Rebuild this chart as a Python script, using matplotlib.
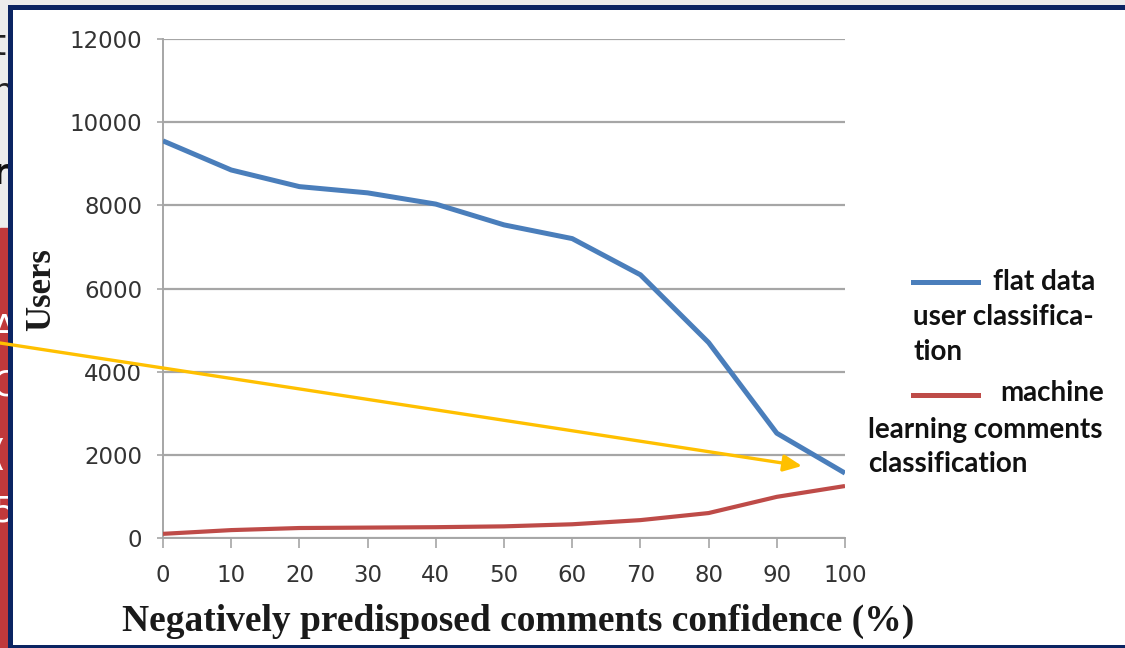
import matplotlib
matplotlib.use('Agg')
import matplotlib.pyplot as plt
from matplotlib.patches import Rectangle
from matplotlib.lines import Line2D

# --- data ---
confidence = [0, 10, 20, 30, 40, 50, 60, 70, 80, 90, 100]
flat_users = [9550, 8850, 8450, 8300, 8030, 7530, 7200, 6330, 4700, 2520, 1560]
ml_users = [100, 190, 240, 250, 260, 280, 330, 430, 600, 990, 1250]
y_ticks = [0, 2000, 4000, 6000, 8000, 10000, 12000]

W, H = 1125, 648
BLUE = '#4a7ebb'
RED = '#be4b48'
GRID = '#a6a6a6'
NAVY = '#0b2462'

fig = plt.figure(figsize=(W / 100, H / 100), dpi=100)

# background slide, in pixel coordinates
bg = fig.add_axes([0, 0, 1, 1])
bg.set_xlim(0, W)
bg.set_ylim(H, 0)
bg.axis('off')
bg.add_patch(Rectangle((0, 0), W, 228, color='#ececec', zorder=0))
bg.add_patch(Rectangle((0, 228), W, H - 228, color='#c0393b', zorder=0))
for txt, y, col, wt in [('t', 45, '#222222', 'normal'), ('n', 93, '#222222', 'normal'),
                        ('r', 174, '#111111', 'bold'), ('A', 330, 'white', 'normal'),
                        ('C', 385, 'white', 'normal'), ('(', 455, 'white', 'normal'),
                        ('5', 512, 'white', 'normal')]:
    bg.text(-8, y, txt, color=col, fontsize=26, fontweight=wt, va='center', ha='left',
            family='DejaVu Sans', zorder=1)
bg.add_patch(Rectangle((9.5, 6.5), W, 640, facecolor='white', edgecolor=NAVY, lw=3.6, zorder=2))

# chart
ax = fig.add_axes([163 / W, 1 - 538 / H, (845 - 163) / W, (538 - 39) / H])
ax.patch.set_alpha(0)
ax.plot(confidence, flat_users, color=BLUE, lw=3.6, solid_capstyle='butt', zorder=3)
ax.plot(confidence, ml_users, color=RED, lw=3.0, solid_capstyle='butt', zorder=3)
ax.set_xlim(0, 100)
ax.set_ylim(0, 12000)
ax.set_xticks(confidence)
ax.set_yticks(y_ticks)
ax.yaxis.grid(True, color=GRID, lw=1.6)
ax.set_axisbelow(True)
for s in ['top', 'right']:
    ax.spines[s].set_visible(False)
for s in ['left', 'bottom']:
    ax.spines[s].set_color(GRID)
    ax.spines[s].set_linewidth(1.4)
ax.tick_params(axis='y', length=4, width=1.2, color=GRID, pad=11, labelsize=16.5, labelcolor='#333333')
ax.tick_params(axis='x', length=7, width=1.2, color=GRID, pad=12, labelsize=16.5, labelcolor='#333333')
for lab in ax.get_xticklabels() + ax.get_yticklabels():
    lab.set_family('DejaVu Sans')

# overlay: labels, legend, arrow (pixel coordinates)
ov = fig.add_axes([0, 0, 1, 1])
ov.set_xlim(0, W)
ov.set_ylim(H, 0)
ov.axis('off')
ov.text(518, 621, 'Negatively predisposed comments confidence (%)', ha='center', va='center',
        fontsize=27, fontweight='bold', family='Liberation Serif', color='#1a1a1a')
ov.text(42, 290, 'Users', ha='center', va='center', rotation=90,
        fontsize=25, fontweight='bold', family='Liberation Serif', color='#1a1a1a')

leg_font = dict(fontsize=20, fontweight='bold', family='Lato', color='#111111', va='center')
ov.add_line(Line2D([913, 978], [282, 282], color=BLUE, lw=3.6))
ov.text(993, 282, 'flat data', **leg_font)
ov.text(913, 317, 'user classifica-', **leg_font)
ov.text(913, 352, 'tion', **leg_font)
ov.add_line(Line2D([913, 978], [395, 395], color=RED, lw=3.6))
ov.text(1000, 393, 'machine', **leg_font)
ov.text(868, 430, 'learning comments', **leg_font)
ov.text(868, 464, 'classification', **leg_font)

ov.annotate('', xy=(802, 466), xytext=(0, 343),
            arrowprops=dict(arrowstyle='-|>,head_length=1.1,head_width=0.5', color='#ffc000',
                            lw=2.4, shrinkA=0, shrinkB=0))

fig.savefig('out.png', dpi=100)
